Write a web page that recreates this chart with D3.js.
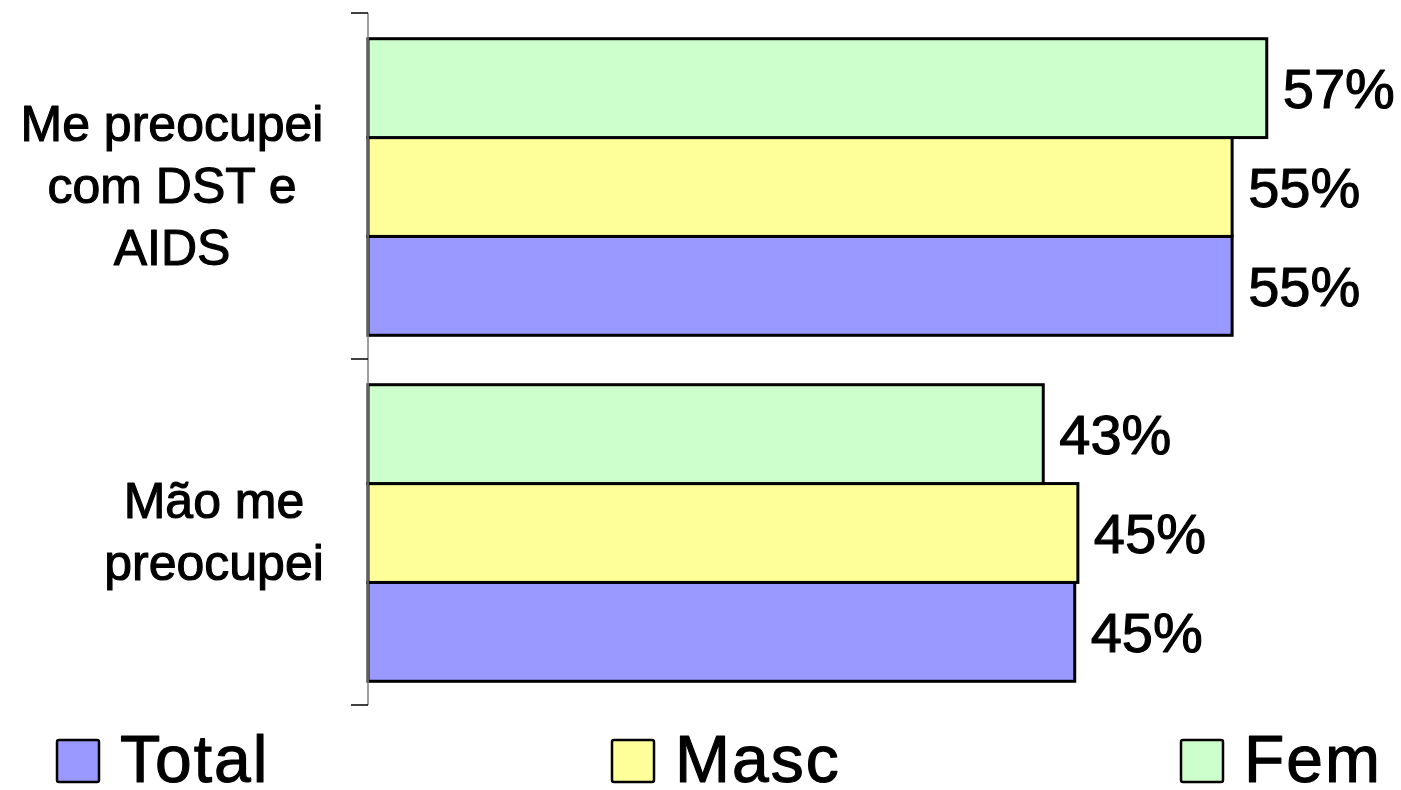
<!DOCTYPE html>
<html>
<head>
<meta charset="utf-8">
<script src="https://cdn.jsdelivr.net/npm/d3@7"></script>
<style>
  html, body { margin: 0; padding: 0; background: #fff; }
  svg { display: block; font-family: "Liberation Sans", Arial, sans-serif; }
  .t { fill: #000; stroke: #000; stroke-width: 1.1px; stroke-linejoin: round; }
</style>
</head>
<body>
<svg id="chart" width="1401" height="790"></svg>
<script>
// ---- data ----
const categories = ["Me preocupei com DST e AIDS", "Mão me preocupei"];
const categoryLines = [["Me preocupei", "com DST e", "AIDS"], ["Mão me", "preocupei"]];
const seriesNames = ["Total", "Masc", "Fem"];
const totalValues = [54.9, 44.9];
const mascValues  = [54.9, 45.1];
const femValues   = [57.1, 42.9];
const seriesColors = ["#9999FF", "#FFFF99", "#CCFFCC"];

const seriesValues = [totalValues, mascValues, femValues];

// ---- layout ----
const svg = d3.select("#chart");
const axisX = 368;
const plotTop = 13, plotBottom = 705;

const x = d3.scaleLinear().domain([0, 60]).range([axisX, axisX + 944.4]);
const y0 = d3.scaleBand().domain(categories).range([plotTop, plotBottom]).paddingInner(0).paddingOuter(0);
// within group: Fem on top, Masc, Total at bottom
const innerOrder = ["Fem", "Masc", "Total"];
const y1 = d3.scaleBand().domain(innerOrder).range([0, y0.bandwidth()]).paddingInner(0).paddingOuter(0.25);

// bars
const g = svg.append("g");
categories.forEach((cat, ci) => {
  seriesNames.forEach((s, si) => {
    const v = seriesValues[si][ci];
    const yy = y0(cat) + y1(s) + 1;
    g.append("rect")
      .attr("x", x(0))
      .attr("y", yy)
      .attr("width", x(v) - x(0))
      .attr("height", y1.bandwidth())
      .attr("fill", seriesColors[si])
      .attr("stroke", "#000")
      .attr("stroke-width", 3);
    g.append("text")
      .attr("class", "t")
      .attr("x", x(v) + 16)
      .attr("y", yy + y1.bandwidth() / 2)
      .attr("dy", "0.36em")
      .attr("font-size", 56)
      .text(Math.round(v) + "%");
  });
});

// axis
const axG = svg.append("g").attr("transform", `translate(${axisX},0)`);
axG.append("line").attr("x1", 0).attr("x2", 0).attr("y1", plotTop).attr("y2", plotBottom)
  .attr("stroke", "#808080").attr("stroke-width", 1.5);
const tickYs = [plotTop, y0(categories[1]), plotBottom];
tickYs.forEach(t => {
  axG.append("line").attr("x1", -17).attr("x2", 0).attr("y1", t).attr("y2", t)
    .attr("stroke", "#000").attr("stroke-width", 1.5);
});

// category labels
const labelCenters = [172, 214];
const lineH = 62;
categories.forEach((cat, ci) => {
  const lines = categoryLines[ci];
  const cy = y0(cat) + y0.bandwidth() / 2 - 1;
  const t = svg.append("text")
    .attr("class", "t")
    .attr("text-anchor", "middle")
    .attr("font-size", 50);
  lines.forEach((ln, li) => {
    t.append("tspan")
      .attr("x", labelCenters[ci])
      .attr("y", cy + (li - (lines.length - 1) / 2) * lineH)
      .attr("dy", "0.36em")
      .text(ln);
  });
});

// legend
const legendX = [57, 612, 1181];
const legend = svg.append("g");
seriesNames.forEach((s, si) => {
  legend.append("rect")
    .attr("x", legendX[si]).attr("y", 740)
    .attr("width", 42).attr("height", 42)
    .attr("rx", 2)
    .attr("fill", seriesColors[si])
    .attr("stroke", "#000").attr("stroke-width", 2.5);
  legend.append("text")
    .attr("class", "t")
    .attr("x", legendX[si] + 63).attr("y", 782)
    .attr("font-size", 66)
    .attr("letter-spacing", 2)
    .text(s);
});
</script>
</body>
</html>
